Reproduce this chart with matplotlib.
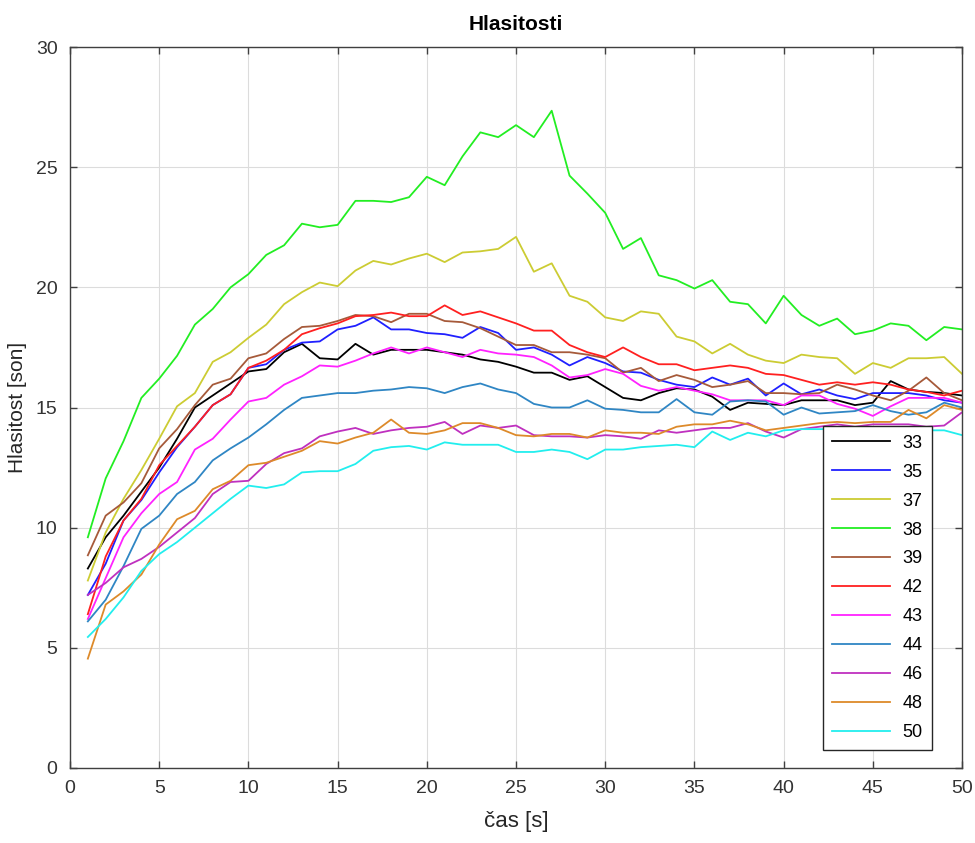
import matplotlib
matplotlib.use("Agg")
import matplotlib.pyplot as plt
import numpy as np

plt.rcParams['font.family'] = ['Liberation Sans', 'DejaVu Sans']

# time axis
t = np.arange(1, 51)

names = ['33', '35', '37', '38', '39', '42', '43', '44', '46', '48', '50']

s33 = [8.3, 9.6, 10.5, 11.5, 12.5, 13.7, 15.0, 15.5, 16.0, 16.5,
       16.6, 17.3, 17.65, 17.05, 17.0, 17.65, 17.2, 17.4, 17.4, 17.4,
       17.3, 17.2, 17.0, 16.9, 16.7, 16.45, 16.45, 16.15, 16.3, 15.85,
       15.4, 15.3, 15.6, 15.8, 15.75, 15.45, 14.9, 15.2, 15.15, 15.1,
       15.3, 15.3, 15.3, 15.1, 15.2, 16.1, 15.75, 15.65, 15.6, 15.5]
s35 = [7.2, 8.5, 10.3, 11.15, 12.3, 13.35, 14.2, 15.1, 15.55, 16.65,
       16.8, 17.4, 17.7, 17.75, 18.25, 18.4, 18.75, 18.25, 18.25, 18.1,
       18.05, 17.9, 18.35, 18.1, 17.4, 17.5, 17.2, 16.75, 17.1, 16.85,
       16.5, 16.45, 16.15, 15.95, 15.85, 16.25, 15.95, 16.2, 15.5, 16.0,
       15.55, 15.75, 15.5, 15.35, 15.6, 15.6, 15.6, 15.5, 15.3, 15.2]
s37 = [7.8, 9.8, 11.2, 12.4, 13.7, 15.05, 15.6, 16.9, 17.3, 17.9,
       18.45, 19.3, 19.8, 20.2, 20.05, 20.7, 21.1, 20.95, 21.2, 21.4,
       21.05, 21.45, 21.5, 21.6, 22.1, 20.65, 21.0, 19.65, 19.4, 18.75,
       18.6, 19.0, 18.9, 17.95, 17.75, 17.25, 17.65, 17.2, 16.95, 16.85,
       17.2, 17.1, 17.05, 16.4, 16.85, 16.65, 17.05, 17.05, 17.1, 16.4]
s38 = [9.6, 12.05, 13.6, 15.4, 16.2, 17.15, 18.45, 19.1, 20.0, 20.55,
       21.35, 21.75, 22.65, 22.5, 22.6, 23.6, 23.6, 23.55, 23.75, 24.6,
       24.25, 25.45, 26.45, 26.25, 26.75, 26.25, 27.35, 24.65, 23.9, 23.1,
       21.6, 22.05, 20.5, 20.3, 19.95, 20.3, 19.4, 19.3, 18.5, 19.65,
       18.85, 18.4, 18.7, 18.05, 18.2, 18.5, 18.4, 17.8, 18.35, 18.25]
s39 = [8.85, 10.5, 11.05, 11.85, 13.3, 14.1, 15.1, 15.95, 16.2, 17.05,
       17.25, 17.85, 18.35, 18.4, 18.6, 18.85, 18.8, 18.55, 18.9, 18.9,
       18.6, 18.55, 18.3, 17.95, 17.6, 17.6, 17.3, 17.3, 17.2, 17.05,
       16.45, 16.65, 16.1, 16.35, 16.15, 15.85, 15.95, 16.1, 15.6, 15.6,
       15.55, 15.6, 15.95, 15.75, 15.5, 15.3, 15.7, 16.25, 15.6, 15.3]
s42 = [6.4, 8.8, 10.3, 11.2, 12.6, 13.4, 14.2, 15.1, 15.55, 16.65,
       16.95, 17.4, 18.05, 18.3, 18.5, 18.8, 18.85, 18.95, 18.8, 18.8,
       19.25, 18.85, 19.0, 18.75, 18.5, 18.2, 18.2, 17.6, 17.3, 17.1,
       17.5, 17.1, 16.8, 16.8, 16.55, 16.65, 16.75, 16.65, 16.4, 16.35,
       16.15, 15.95, 16.05, 15.95, 16.05, 15.95, 15.75, 15.65, 15.5, 15.7]
s43 = [6.2, 7.9, 9.6, 10.6, 11.4, 11.9, 13.25, 13.7, 14.5, 15.25,
       15.4, 15.95, 16.3, 16.75, 16.7, 16.95, 17.25, 17.5, 17.25, 17.5,
       17.3, 17.1, 17.4, 17.25, 17.2, 17.1, 16.75, 16.25, 16.35, 16.6,
       16.4, 15.9, 15.7, 15.85, 15.7, 15.55, 15.3, 15.3, 15.3, 15.1,
       15.5, 15.5, 15.15, 14.95, 14.65, 15.05, 15.4, 15.4, 15.4, 15.2]
s44 = [6.1, 7.0, 8.4, 9.95, 10.5, 11.4, 11.9, 12.8, 13.3, 13.75,
       14.3, 14.9, 15.4, 15.5, 15.6, 15.6, 15.7, 15.75, 15.85, 15.8,
       15.6, 15.85, 16.0, 15.75, 15.6, 15.15, 15.0, 15.0, 15.3, 14.95,
       14.9, 14.8, 14.8, 15.35, 14.8, 14.7, 15.25, 15.3, 15.25, 14.7,
       15.0, 14.75, 14.8, 14.85, 15.1, 14.85, 14.7, 14.8, 15.2, 15.0]
s46 = [7.2, 7.7, 8.35, 8.7, 9.2, 9.8, 10.4, 11.4, 11.9, 11.95,
       12.65, 13.1, 13.3, 13.8, 14.0, 14.15, 13.9, 14.05, 14.15, 14.2,
       14.4, 13.9, 14.25, 14.15, 14.25, 13.85, 13.8, 13.8, 13.75, 13.85,
       13.8, 13.7, 14.05, 13.95, 14.05, 14.15, 14.15, 14.35, 14.0, 13.75,
       14.1, 14.2, 14.3, 14.2, 14.3, 14.3, 14.3, 14.2, 14.25, 14.8]
s48 = [4.55, 6.8, 7.35, 8.05, 9.3, 10.35, 10.7, 11.6, 11.95, 12.6,
       12.7, 12.95, 13.2, 13.6, 13.5, 13.75, 13.95, 14.5, 13.95, 13.9,
       14.05, 14.35, 14.35, 14.15, 13.85, 13.8, 13.9, 13.9, 13.75, 14.05,
       13.95, 13.95, 13.9, 14.2, 14.3, 14.3, 14.45, 14.3, 14.05, 14.15,
       14.25, 14.35, 14.4, 14.35, 14.4, 14.4, 14.9, 14.55, 15.1, 14.9]
s50 = [5.45, 6.2, 7.1, 8.2, 8.9, 9.4, 10.0, 10.6, 11.2, 11.75,
       11.65, 11.8, 12.3, 12.35, 12.35, 12.65, 13.2, 13.35, 13.4, 13.25,
       13.55, 13.45, 13.45, 13.45, 13.15, 13.15, 13.25, 13.15, 12.85, 13.25,
       13.25, 13.35, 13.4, 13.45, 13.35, 14.0, 13.65, 13.95, 13.8, 14.05,
       14.1, 14.1, 14.1, 14.05, 14.05, 14.1, 14.1, 14.05, 14.05, 13.85]

series = [s33, s35, s37, s38, s39, s42, s43, s44, s46, s48, s50]
colors = ['#000000', '#2020ff', '#cccc33', '#22ee22', '#a65a3a', '#ff2020',
          '#ff22ff', '#2f86c4', '#bf30bf', '#dd8a2a', '#22eeee']

fig = plt.figure(figsize=(9.75, 8.43), dpi=100)
ax = fig.add_axes([0.0718, 0.089, 0.9149, 0.8552])

for name, vals, c in zip(names, series, colors):
    ax.plot(t, vals, color=c, linewidth=1.3, label=name)

ax.set_xlim(0, 50)
ax.set_ylim(0, 30)
ax.set_xticks(range(0, 51, 5))
ax.set_yticks(range(0, 31, 5))
ax.grid(True, color='#dcdcdc', linewidth=0.8)
ax.set_axisbelow(True)

axis_col = '#404040'
for sp in ax.spines.values():
    sp.set_color(axis_col)
    sp.set_linewidth(1.0)
ax.tick_params(direction='in', top=True, right=True, length=5, width=1.0,
               colors=axis_col, labelsize=14, labelcolor='#333333', pad=9)

ax.set_xlabel('čas [s]', fontsize=16, color='#262626', labelpad=10)
ax.set_ylabel('Hlasitost [son]', fontsize=15, color='#262626', labelpad=6)
ax.set_title('Hlasitosti', fontsize=15, fontweight='bold', pad=12)

leg = ax.legend(loc='lower right', bbox_to_anchor=(0.966, 0.025), fontsize=13,
                fancybox=False, framealpha=1, edgecolor='#262626',
                handlelength=3.2, labelspacing=0.66, borderpad=0.5,
                handletextpad=0.7, borderaxespad=0)
leg.get_frame().set_linewidth(1.0)

fig.savefig('out.png', dpi=100)
